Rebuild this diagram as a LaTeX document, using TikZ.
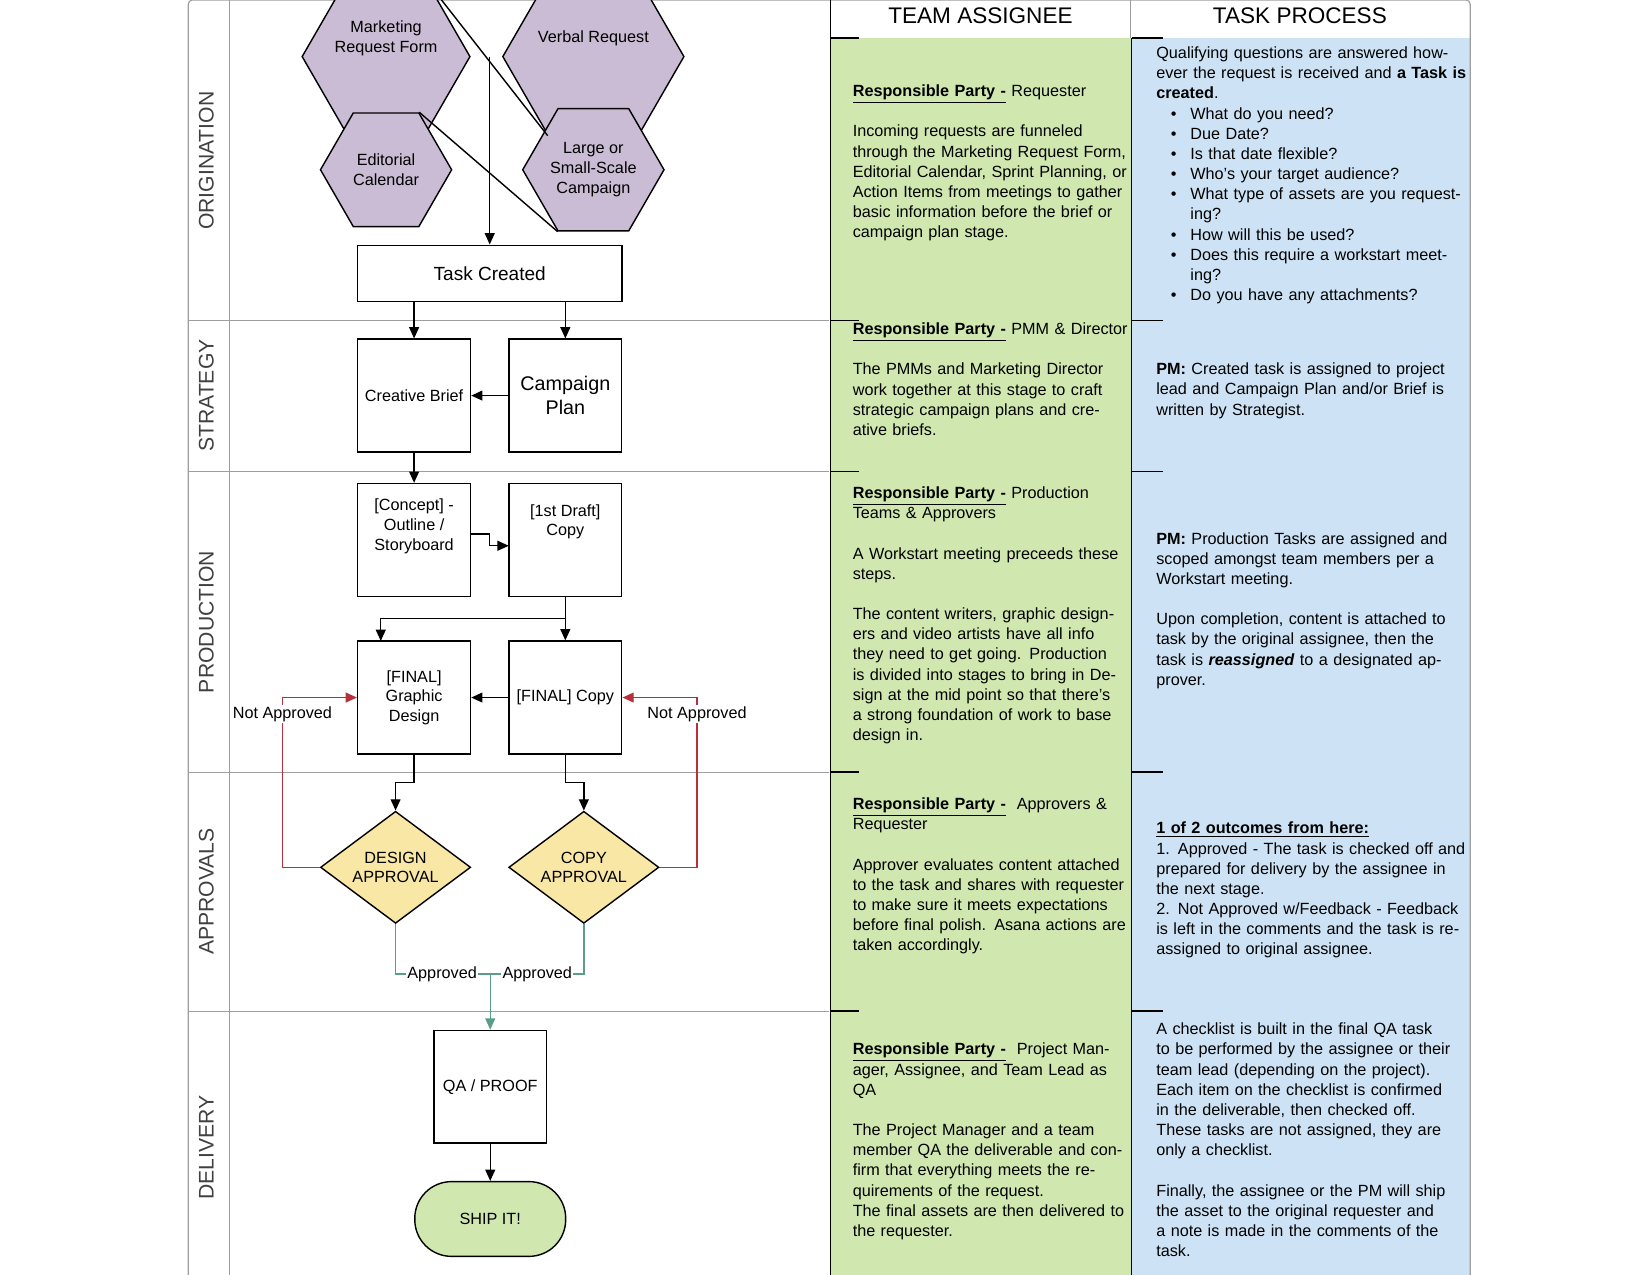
\documentclass[tikz,border=0pt]{standalone}
\usepackage{fontspec}
\setmainfont{Liberation Sans}
\usetikzlibrary{shapes.geometric,arrows.meta}
\definecolor{hexc}{HTML}{CABCD4}
\definecolor{yel}{HTML}{F9E7A5}
\definecolor{grn}{HTML}{D0E8B0}
\definecolor{blu}{HTML}{CDE3F5}
\definecolor{redc}{HTML}{B8303E}
\definecolor{teal2}{HTML}{5A9E8A}
\definecolor{lanec}{HTML}{9E9E9E}
\newcommand{\bit}[1]{\par\hangindent=2.1em\hspace*{0.9em}\makebox[1.2em][l]{\textbullet}#1}
\newcommand{\rp}{\textbf{\underline{Responsible Party -}}}
\begin{document}
\begin{tikzpicture}[x=0.75pt,y=-0.75pt,
  font=\fontsize{11.5}{14}\selectfont,
  hex/.style={regular polygon,regular polygon sides=6,minimum size=93pt,inner sep=0pt,draw,line width=1pt,fill=hexc,align=center},
  box/.style={draw,line width=1pt,minimum width=80pt,minimum height=80pt,align=center,inner sep=2pt},
  dia/.style={diamond,draw,line width=1pt,fill=yel,minimum width=106.5pt,minimum height=79.5pt,aspect=1.34,inner sep=0pt,align=center},
  arr/.style={line width=1pt,-{Triangle[length=8pt,width=7pt]}},
  ln/.style={line width=1pt},
  lane/.style={rotate=90,text=black!75,font=\fontsize{15}{18}\selectfont},
  col/.style={anchor=north west,align=left,inner sep=0pt,font=\fontsize{11.5}{14.3}\selectfont},
  lbl/.style={fill=white,inner sep=1pt}]
\useasboundingbox (0,0) rectangle (1560,1205);
% columns
\fill[grn] (785,36) rectangle (1069,1212);
\fill[blu] (1070,36) rectangle (1390,1212);
\draw[lanec,line width=0.8pt,rounded corners=3pt] (178,1215) -- (178,0) -- (1390,0) -- (1390,1215);
\draw[lanec,line width=0.8pt] (217,0) -- (217,1212);
\draw[lanec,line width=0.8pt] (1069,0) -- (1069,36);
\draw[line width=1pt] (785,0) -- (785,1212);
\draw[line width=1pt] (1070,36) -- (1070,1212);
\foreach \y in {303,446,730,956}{
  \draw[lanec,line width=0.8pt] (178,\y) -- (784,\y);
  \draw[line width=1pt] (785,\y) -- (812,\y);
  \draw[line width=1pt] (1070,\y) -- (1100,\y);
}
\draw[line width=1pt] (785,36) -- (812,36);
\draw[line width=1pt] (1070,36) -- (1100,36);
\node[font=\fontsize{16}{19}\selectfont] (h1) at (927,15) {TEAM ASSIGNEE};
\node[font=\fontsize{16}{19}\selectfont] (h2) at (1229,15) {TASK PROCESS};
% lanes
\node[lane] (l1) at (195,152) {ORIGINATION};
\node[lane] (l2) at (195,374) {STRATEGY};
\node[lane] (l3) at (195,588) {PRODUCTION};
\node[lane] (l4) at (195,843) {APPROVALS};
\node[lane] (l5) at (195,1085) {DELIVERY};
% hexes
\node[hex] (mrf) at (365,53.5) {Marketing\\Request Form\\[14pt]};
\node[hex] (ec) at (365,160.5) {Editorial\\Calendar};
\node[hex] (vr) at (561,53.5) {Verbal Request\\[14pt]};
\node[hex] (lc) at (561,160.5) {Large or\\Small-Scale\\Campaign};
\coordinate (j1) at (463,53.5);
\draw[ln] (mrf.corner 1) -- (vr.corner 4);
\draw[ln] (ec.corner 1) -- (lc.corner 4);
% boxes
\node[draw,line width=1pt,minimum width=187.5pt,minimum height=40pt,font=\fontsize{13.5}{16}\selectfont] (tc) at (463,258.5) {Task Created};
\draw[arr] (j1) -- (tc.north);
\node[box] (cb) at (391.5,374) {Creative Brief};
\node[box,font=\fontsize{14}{17}\selectfont] (cp) at (534.5,374) {Campaign\\Plan};
\draw[arr] (tc.south -| cb.north) -- (cb.north);
\draw[arr] (tc.south -| cp.north) -- (cp.north);
\draw[arr] (cp.west) -- (cb.east);
\node[box] (co) at (391.5,510.5) {[Concept] -\\Outline /\\Storyboard\\[8pt]};
\node[box] (fd) at (534.5,510.5) {[1st Draft]\\Copy\\[14pt]};
\draw[arr] (cb.south) -- (co.north);
\draw[arr] (445,505) -- (463,505) -- (463,516) -- (481,516);
\node[box] (fg) at (391.5,659.5) {[FINAL]\\Graphic\\Design};
\node[box] (fc) at (534.5,659.5) {[FINAL] Copy};
\coordinate (b1) at (534.5,585);
\draw[arr] (fd.south) -- (b1) -- (fc.north);
\draw[arr] (b1) -- (360,585) -- (360,606);
\draw[arr] (fc.west) -- (fg.west -| fg.east);
\node[dia] (da) at (374,820) {DESIGN\\APPROVAL};
\node[dia] (ca) at (552,820) {COPY\\APPROVAL};
\draw[arr] (fg.south) -- (391.5,740) -- (374,740) -- (da.north);
\draw[arr] (fc.south) -- (534.5,740) -- (552,740) -- (ca.north);
\draw[arr,redc] (da.west) -- (267,820) -- (267,659.5) -- (fg.west);
\draw[arr,redc] (ca.east) -- (659,820) -- (659,659.5) -- (fc.east);
\node[lbl] (na1) at (267,675) {Not Approved};
\node[lbl] (na2) at (659,675) {Not Approved};
\node[box] (qa) at (463.5,1027.5) {QA / PROOF};
\coordinate (m) at (463.5,921);
\draw[ln,teal2] (da.south) -- (374,921) -- (m);
\draw[ln,teal2] (ca.south) -- (552,921) -- (m);
\draw[arr,teal2] (m) -- (qa.north);
\node[lbl] (ap1) at (418,921) {Approved};
\node[lbl] (ap2) at (508,921) {Approved};
\node[draw,line width=1pt,fill=grn,rounded corners=26pt,minimum width=107pt,minimum height=53pt] (ship) at (463.5,1152.5) {SHIP IT!};
\draw[arr] (qa.south) -- (ship.north);
% green texts
\node[col,text width=200pt] (g1) at (806,80) {\rp{} Requester\\[14.3pt]Incoming requests are funneled through the Marketing Request Form, Editorial Calendar, Sprint Planning, or Action Items from meetings to gather basic information before the brief or campaign plan stage.};
\node[col,text width=195pt] (g2) at (806,305) {\rp{} PMM \& Director\\[14.3pt]The PMMs and Marketing Director work together at this stage to craft strategic campaign plans and creative briefs.};
\node[col,text width=195pt] (g3) at (806,460) {\rp{} Production Teams \& Approvers\\[14.3pt]A Workstart meeting preceeds these steps.\\[14.3pt]The content writers, graphic designers and video artists have all info they need to get going. Production is divided into stages to bring in Design at the mid point so that there's a strong foundation of work to base design in.};
\node[col,text width=195pt] (g4) at (806,754) {\rp{}\ \ Approvers \& Requester\\[14.3pt]Approver evaluates content attached to the task and shares with requester to make sure it meets expectations before final polish. Asana actions are taken accordingly.};
\node[col,text width=195pt] (g5) at (806,986) {\rp{}\ \ Project Manager, Assignee, and Team Lead as QA\\[14.3pt]The Project Manager and a team member QA the deliverable and confirm that everything meets the requirements of the request.\\The final assets are then delivered to the requester.};
% blue texts
\node[col,text width=222pt] (p1) at (1093,44) {Qualifying questions are answered however the request is received and \textbf{a Task is created}.
\bit{What do you need?}\bit{Due Date?}\bit{Is that date flexible?}\bit{Who's your target audience?}\bit{What type of assets are you requesting?}\bit{How will this be used?}\bit{Does this require a workstart meeting?}\bit{Do you have any attachments?}};
\node[col,text width=215pt] (p2) at (1093,343) {\textbf{PM:} Created task is assigned to project lead and Campaign Plan and/or Brief is written by Strategist.};
\node[col,text width=215pt] (p3) at (1093,503) {\textbf{PM:} Production Tasks are assigned and scoped amongst team members per a Workstart meeting.\\[14.3pt]Upon completion, content is attached to task by the original assignee, then the task is \textbf{\textit{reassigned}} to a designated approver.};
\node[col,text width=222pt] (p4) at (1093,777) {\textbf{\underline{1 of 2 outcomes from here:}}\\1. Approved - The task is checked off and prepared for delivery by the assignee in the next stage.\\2. Not Approved w/Feedback - Feedback is left in the comments and the task is reassigned to original assignee.};
\node[col,text width=215pt] (p5) at (1093,967) {A checklist is built in the final QA task to be performed by the assignee or their team lead (depending on the project). Each item on the checklist is confirmed in the deliverable, then checked off. These tasks are not assigned, they are only a checklist.\\[14.3pt]Finally, the assignee or the PM will ship the asset to the original requester and a note is made in the comments of the task.};
\end{tikzpicture}
\end{document}
